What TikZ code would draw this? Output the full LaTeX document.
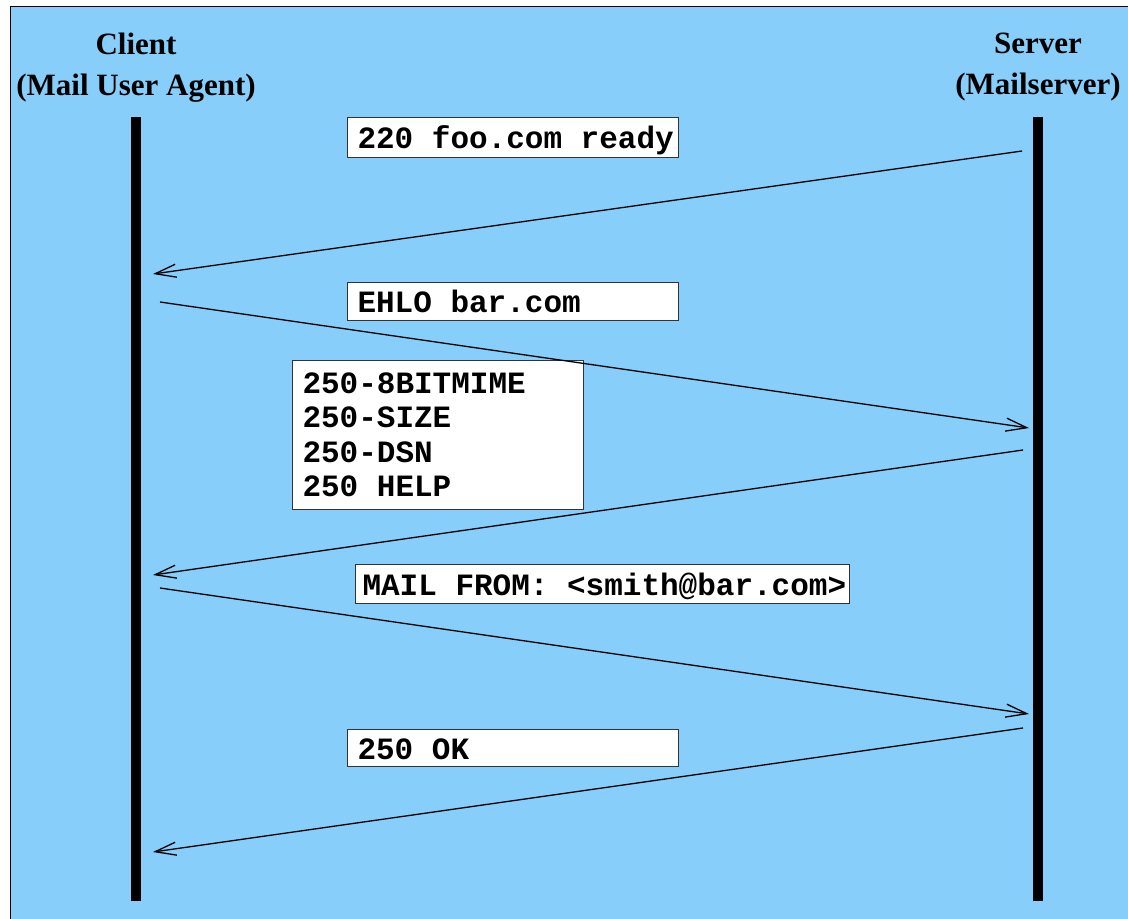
\documentclass[tikz,border=0pt]{standalone}
\usepackage{fontspec}
\setmainfont{Liberation Serif}
\setmonofont{Liberation Mono}
\usetikzlibrary{arrows.meta}
\definecolor{skyback}{RGB}{135,206,250}
\hfuzz=20pt
\newcommand\msgfont{\fontsize{31}{34.5}\selectfont\ttfamily\bfseries}
\newcommand\tspace{\hspace*{0.6em}}

\begin{document}
\begin{tikzpicture}[x=1pt,y=-1pt,
    actor/.style={inner sep=0pt, anchor=north, align=center, font=\fontsize{31}{41}\selectfont\bfseries},
    lifeline/.style={line width=10pt},
    msg/.style={line width=1.3pt, -{Straight Barb[length=21pt,width=13pt]}},
    msgbox/.style={draw=black!80, line width=1pt, fill=white, anchor=north west, inner ysep=0pt,
        inner xsep=10pt, align=left, font=\msgfont},
    linebox/.style={msgbox, text height=22pt, text depth=0pt}]
\useasboundingbox (0,0) rectangle (1128,919);
\clip (0,0) rectangle (1128,919);

% Background panel
\draw[line width=1pt, fill=skyback] (10.5,6.5) rectangle (1140,930);

% Participants
\node[actor] (client) at (136,33) {Client\\(Mail User Agent)};
\node[actor] (server) at (1038,33) {Server\\(Mailserver)};

% Lifelines
\coordinate (ctop) at (136,117);
\coordinate (cbot) at (136,901);
\coordinate (stop) at (1038,117);
\coordinate (sbot) at (1038,901);
\draw[lifeline] (ctop) -- (cbot);
\draw[lifeline] (stop) -- (sbot);

% Message labels
\node[linebox, minimum width=331pt, minimum height=40pt, text width=311pt] (greet) at (347,117)
    {220\tspace foo.com\tspace ready};
\node[linebox, minimum width=331pt, minimum height=38pt, text width=311pt] (ehlo) at (347,282)
    {EHLO\tspace bar.com};
\node[msgbox, minimum width=291pt, minimum height=149pt, text width=271pt] (ext) at (292,360)
    {250-8BITMIME\\250-SIZE\\250-DSN\\250\tspace HELP};
\node[linebox, minimum width=494pt, minimum height=39pt, text width=480pt, inner xsep=7pt] (from) at (355,564)
    {MAIL\tspace FROM:\tspace <smith@bar.com>};
\node[linebox, minimum width=331pt, minimum height=37pt, text width=311pt] (ok) at (347,729)
    {250\tspace OK};

% Messages
\coordinate (m1a) at (1022,151);  \coordinate (m1b) at (153,274);
\coordinate (m2a) at (160,302);   \coordinate (m2b) at (1029,428);
\coordinate (m3a) at (1023,450);  \coordinate (m3b) at (153,575);
\coordinate (m4a) at (160,588);   \coordinate (m4b) at (1029,714);
\coordinate (m5a) at (1023,728);  \coordinate (m5b) at (153,852);
\draw[msg] (m1a) -- (m1b);
\draw[msg] (m2a) -- (m2b);
\draw[msg] (m3a) -- (m3b);
\draw[msg] (m4a) -- (m4b);
\draw[msg] (m5a) -- (m5b);
\end{tikzpicture}
\end{document}
